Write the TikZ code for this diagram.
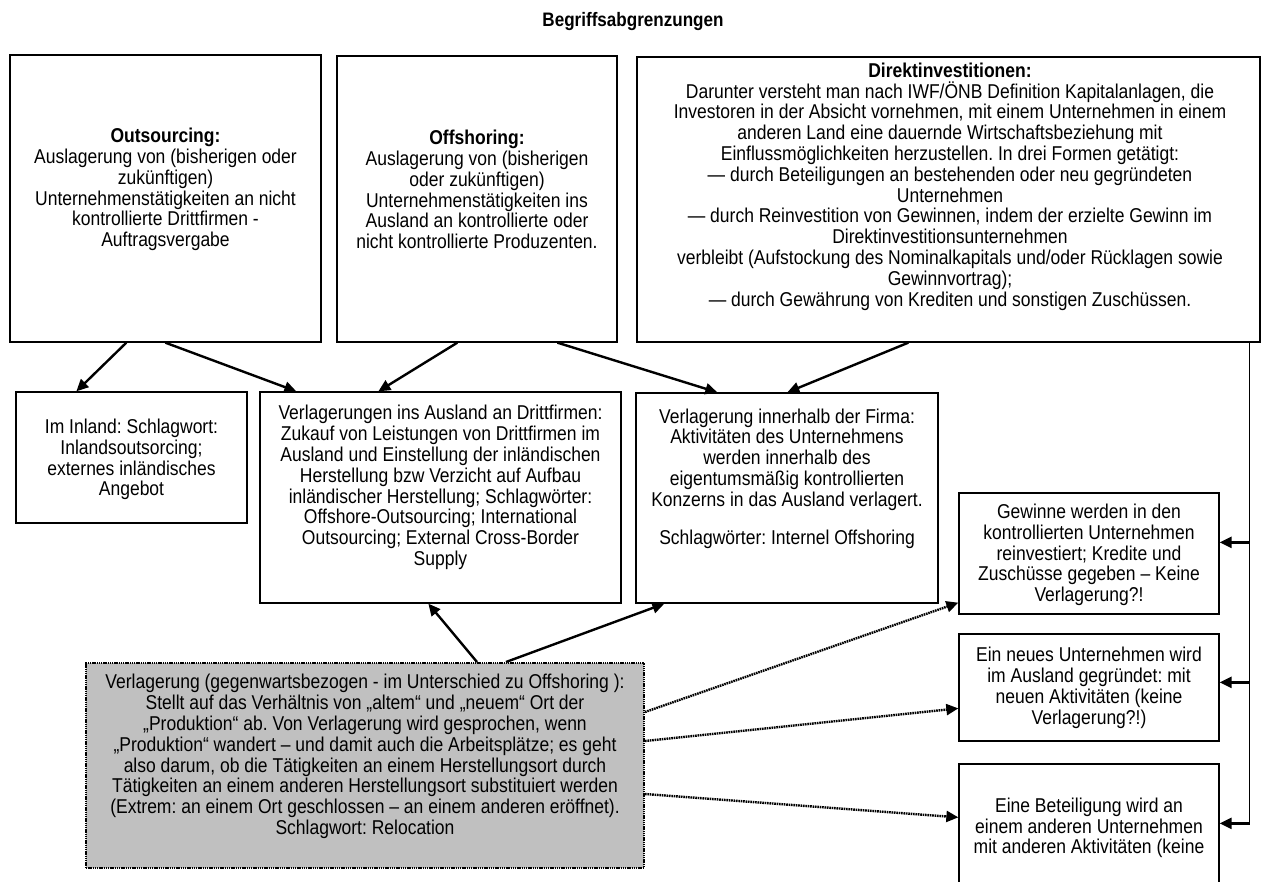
\documentclass[tikz,border=0pt]{standalone}
\usepackage{fontspec}
\setmainfont{Liberation Sans}[FakeStretch=0.875]
\usetikzlibrary{arrows.meta,calc}
\definecolor{grayfill}{RGB}{192,192,192}
\frenchspacing
\tikzset{
  box/.style={draw=black, line width=1.3pt, inner sep=0pt},
  txt/.style={align=center, font=\frenchspacing\fontsize{20}{20.8}\selectfont, inner sep=0pt},
  arr/.style={line width=2.4pt, -{Triangle[length=12pt,width=11pt]}},
  darr/.style={line width=2.4pt, dash pattern=on 1.6pt off 0.8pt, -{Triangle[length=12pt,width=11pt]}},
  rarr/.style={line width=2.4pt, -{Triangle[length=12pt,width=11pt]}},
}
\begin{document}
\begin{tikzpicture}[x=1pt,y=-1pt]
\useasboundingbox (0,0) rectangle (1266,881);
\clip (0,0) rectangle (1266,881);
\fill[white] (0,0) rectangle (1266,881);

\node[txt, font=\fontsize{19.5}{20}\selectfont\bfseries] (title) at (633,22) {Begriffsabgrenzungen};

% boxes
\node[box, minimum width=311pt, minimum height=287pt] (out) at (165.5,198.5) {};
\node[box, minimum width=280pt, minimum height=286pt] (off) at (477,199) {};
\node[box, minimum width=623pt, minimum height=285pt] (dir) at (948.5,199.5) {};
\node[box, minimum width=231pt, minimum height=131pt] (inl) at (131.5,457.5) {};
\node[box, minimum width=361pt, minimum height=211pt] (ver) at (440.5,497.5) {};
\node[box, minimum width=302pt, minimum height=210pt] (inn) at (787,498) {};
\node[box, minimum width=260pt, minimum height=121pt] (gew) at (1089,553.5) {};
\node[box, minimum width=260pt, minimum height=107pt] (neu) at (1089,687.5) {};
\node[box, minimum width=260pt, minimum height=156pt] (bet) at (1089,842) {};
\node[box, draw=black, dash pattern=on 1.4pt off 0.8pt, line width=2pt, fill=grayfill, minimum width=558pt, minimum height=205pt] (rel) at (365,765.5) {};

% texts
\node[txt] (tout) at (165.5,189.5) {\textbf{Outsourcing:}\\Auslagerung von (bisherigen oder\\zukünftigen)\\Unternehmenstätigkeiten an nicht\\kontrollierte Drittfirmen -\\Auftragsvergabe};
\node[txt] (toff) at (477,189.5) {\textbf{Offshoring:}\\Auslagerung von (bisherigen\\oder zukünftigen)\\Unternehmenstätigkeiten ins\\Ausland an kontrollierte oder\\nicht kontrollierte Produzenten.};
\node[txt] (tdir) at (950,186.5) {\textbf{Direktinvestitionen:}\\Darunter versteht man nach IWF/ÖNB Definition Kapitalanlagen, die\\Investoren in der Absicht vornehmen, mit einem Unternehmen in einem\\anderen Land eine dauernde Wirtschaftsbeziehung mit\\Einflussmöglichkeiten herzustellen. In drei Formen getätigt:\\— durch Beteiligungen an bestehenden oder neu gegründeten\\Unternehmen\\— durch Reinvestition von Gewinnen, indem der erzielte Gewinn im\\Direktinvestitionsunternehmen\\verbleibt (Aufstockung des Nominalkapitals und/oder Rücklagen sowie\\Gewinnvortrag);\\— durch Gewährung von Krediten und sonstigen Zuschüssen.};
\node[txt] (tinl) at (131.5,459.5) {Im Inland: Schlagwort:\\Inlandsoutsorcing;\\externes inländisches\\Angebot};
\node[txt] (tver) at (440.5,487.5) {Verlagerungen ins Ausland an Drittfirmen:\\Zukauf von Leistungen von Drittfirmen im\\Ausland und Einstellung der inländischen\\Herstellung bzw Verzicht auf Aufbau\\inländischer Herstellung; Schlagwörter:\\Offshore-Outsourcing; International\\Outsourcing; External Cross-Border\\Supply};
\node[txt] (tinn) at (787,478.5) {Verlagerung innerhalb der Firma:\\Aktivitäten des Unternehmens\\werden innerhalb des\\eigentumsmäßig kontrollierten\\Konzerns in das Ausland verlagert.\\[17pt]Schlagwörter: Internel Offshoring};
\node[txt] (tgew) at (1089,555) {Gewinne werden in den\\kontrollierten Unternehmen\\reinvestiert; Kredite und\\Zuschüsse gegeben – Keine\\Verlagerung?!};
\node[txt] (tneu) at (1089,688) {Ein neues Unternehmen wird\\im Ausland gegründet: mit\\neuen Aktivitäten (keine\\Verlagerung?!)};
\node[txt] (tbet) at (1089,828) {Eine Beteiligung wird an\\einem anderen Unternehmen\\mit anderen Aktivitäten (keine};
\node[txt] (trel) at (365,756.5) {Verlagerung (gegenwartsbezogen - im Unterschied zu Offshoring ):\\Stellt auf das Verhältnis von „altem“ und „neuem“ Ort der\\„Produktion“ ab. Von Verlagerung wird gesprochen, wenn\\„Produktion“ wandert – und damit auch die Arbeitsplätze; es geht\\also darum, ob die Tätigkeiten an einem Herstellungsort durch\\Tätigkeiten an einem anderen Herstellungsort substituiert werden\\(Extrem: an einem Ort geschlossen – an einem anderen eröffnet).\\Schlagwort: Relocation};

% solid arrows
\draw[arr] ([xshift=117pt]out.south west) -- ([xshift=61pt]inl.north west);
\draw[arr] ([xshift=156pt]out.south west) -- ([xshift=37pt]ver.north west);
\draw[arr] ([xshift=121pt]off.south west) -- ([xshift=119pt]ver.north west);
\draw[arr] ([xshift=221pt]off.south west) -- ([xshift=82pt]inn.north west);
\draw[arr] ([xshift=272pt]dir.south west) -- ([xshift=152pt]inn.north west);
\draw[arr] ([xshift=392pt]rel.north west) -- ([xshift=169pt]ver.south west);
\draw[arr] ([xshift=421pt]rel.north west) -- ([xshift=29pt]inn.south west);

% dotted arrows
\draw[darr] ([yshift=-50pt]rel.north east) -- ([yshift=12pt]gew.south west);
\draw[darr] ([yshift=-79pt]rel.north east) -- ([yshift=-75pt]neu.north west);
\draw[darr] ([yshift=-132pt]rel.north east) -- ([yshift=-54pt]bet.north west);

% right bus
\coordinate (vtop) at ([xshift=-11pt]dir.south east);
\coordinate (gin) at ([yshift=-50pt]gew.north east);
\coordinate (nin) at ([yshift=-49pt]neu.north east);
\coordinate (bin) at ([yshift=-60pt]bet.north east);
\draw[line width=1.5pt] (vtop) -- (vtop |- bin);
\draw[rarr] (vtop |- bin) -- (bin);
\draw[rarr] (vtop |- gin) -- (gin);
\draw[rarr] (vtop |- nin) -- (nin);
\end{tikzpicture}
\end{document}
